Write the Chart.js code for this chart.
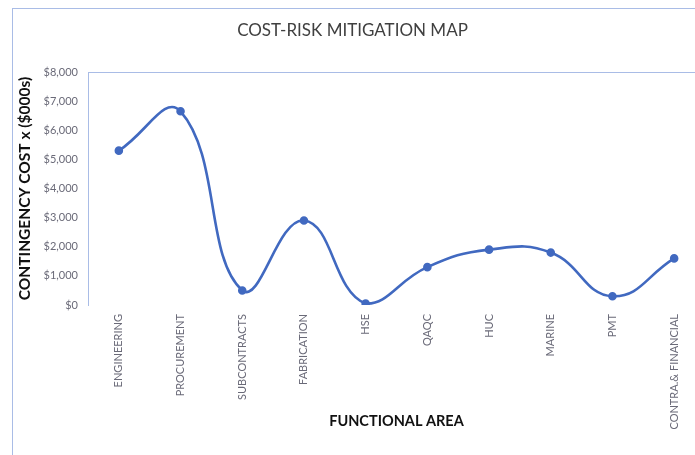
<!DOCTYPE html>
<html>
<head>
<meta charset="utf-8">
<script src="https://cdn.jsdelivr.net/npm/chart.js@4"></script>
<style>
  html, body { margin: 0; padding: 0; background: #fff; overflow: hidden; width: 695px; height: 455px; }
  #frame { position: absolute; left: 12px; top: 8px; width: 800px; height: 600px; border: 1px solid #a9bce6; box-sizing: border-box; }
  #wrap { position: absolute; left: 0; top: 0; width: 720px; height: 455px; }
</style>
</head>
<body>
<div id="frame"></div>
<div id="wrap"><canvas id="c" width="720" height="455"></canvas></div>
<script>
// Functional areas and their contingency cost ($000s)
const areas = ["ENGINEERING", "PROCUREMENT", "SUBCONTRACTS", "FABRICATION", "HSE", "QAQC", "HUC", "MARINE", "PMT", "CONTRA.& FINANCIAL"];
const contingencyCost = [5300, 6650, 500, 2900, 50, 1300, 1900, 1800, 300, 1600];
const yTicks = [0, 1000, 2000, 3000, 4000, 5000, 6000, 7000, 8000];

const FONT = "Lato, 'Open Sans', sans-serif";
const LINE_BLUE = "#4169c0";
const FRAME_BLUE = "#a9bce6";

// thin rule along the top of the plot area, running to the page edge
const topRule = {
  id: "topRule",
  beforeDraw(chart) {
    const { ctx, chartArea } = chart;
    ctx.save();
    ctx.strokeStyle = FRAME_BLUE;
    ctx.lineWidth = 1;
    ctx.beginPath();
    ctx.moveTo(chartArea.left, Math.round(chartArea.top) + 0.5);
    ctx.lineTo(chart.width, Math.round(chartArea.top) + 0.5);
    ctx.stroke();
    ctx.restore();
  }
};

new Chart(document.getElementById("c"), {
  type: "line",
  data: {
    labels: areas,
    datasets: [{
      data: contingencyCost,
      borderColor: LINE_BLUE,
      backgroundColor: LINE_BLUE,
      borderWidth: 2.6,
      tension: 0.45,
      pointRadius: 3,
      pointBackgroundColor: LINE_BLUE,
      pointBorderColor: LINE_BLUE,
      fill: false
    }]
  },
  options: {
    responsive: false,
    animation: false,
    layout: { padding: { left: 0, right: 15, top: 0, bottom: 0 } },
    plugins: {
      legend: { display: false },
      tooltip: { enabled: false },
      title: {
        display: true,
        text: "COST-RISK MITIGATION MAP",
        color: "#404040",
        font: { family: FONT, size: 17, weight: "normal" },
        padding: { top: 20, bottom: 31.6 }
      }
    },
    scales: {
      x: {
        type: "category",
        offset: true,
        grid: { display: false, drawTicks: false },
        border: { display: false },
        ticks: {
          autoSkip: false,
          minRotation: 90,
          maxRotation: 90,
          padding: 9,
          color: "#6a6a78",
          font: { family: FONT, size: 11 }
        },
        title: {
          display: true,
          text: "FUNCTIONAL AREA",
          color: "#111",
          font: { family: FONT, size: 14.5, weight: "bold" },
          padding: { top: 0, bottom: 25 }
        },
        afterFit(scale) { scale.height = 150; }
      },
      y: {
        min: 0,
        max: 8000,
        afterBuildTicks(scale) { scale.ticks = yTicks.map(v => ({ value: v })); },
        grid: { display: false, drawTicks: false },
        border: { display: true, color: FRAME_BLUE, width: 1 },
        ticks: {
          padding: 10,
          color: "#6a6a78",
          font: { family: FONT, size: 11 },
          callback: v => "$" + Number(v).toLocaleString("en-US")
        },
        title: {
          display: true,
          text: "CONTINGENCY COST x ($000s)",
          color: "#111",
          font: { family: FONT, size: 15.5, weight: "bold" },
          padding: { top: 16, bottom: 0 }
        },
        afterFit(scale) { scale.width = 88; }
      }
    }
  },
  plugins: [topRule]
});
</script>
</body>
</html>
